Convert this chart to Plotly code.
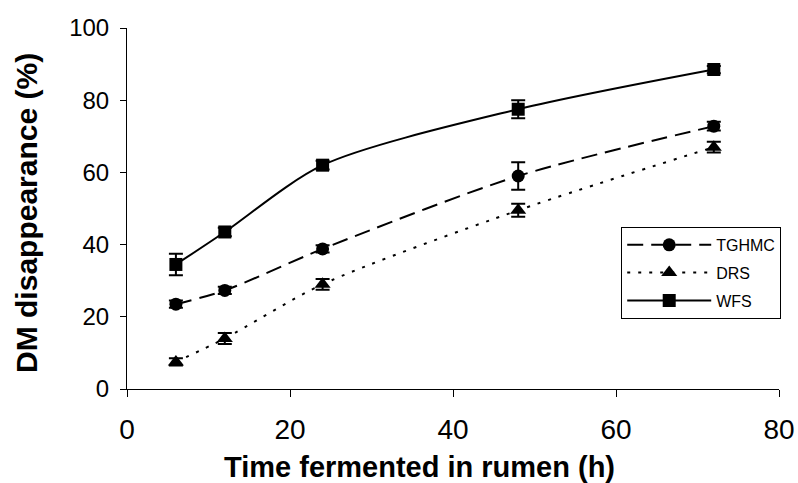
import plotly.graph_objects as go

hours = [6, 12, 24, 48, 72]
tghmc = [23.5, 27.3, 38.8, 59.0, 72.8]
tghmc_err = [1.0, 1.0, 1.0, 3.8, 1.2]
drs = [7.5, 14.0, 29.0, 49.5, 67.0]
drs_err = [1.0, 1.5, 1.5, 1.8, 1.5]
wfs = [34.5, 43.5, 62.0, 77.5, 88.5]
wfs_err = [3.0, 1.2, 1.2, 2.5, 1.0]

x_ticks = [0, 20, 40, 60, 80]
y_ticks = [0, 20, 40, 60, 80, 100]

fig = go.Figure()

def add(name, y, err, dash, symbol, size):
    fig.add_trace(go.Scatter(
        x=hours, y=y, name=name, mode="lines+markers", legendgroup=name,
        line=dict(color="black", width=2, dash=dash, shape="spline", smoothing=0.8),
        marker=dict(symbol=symbol, size=size, color="black"),
        error_y=dict(type="data", array=err, visible=True, color="black",
                     thickness=2, width=7),
    ))

add("TGHMC", tghmc, tghmc_err, "16px,8px", "circle", 13)
add("DRS", drs, drs_err, "3px,8px", "triangle-up", 14)
add("WFS", wfs, wfs_err, "solid", "square", 13)

font = "Liberation Sans, Arial, sans-serif"
fig.update_layout(
    width=798, height=483,
    margin=dict(l=127, r=19, t=28, b=94),
    paper_bgcolor="white", plot_bgcolor="white",
    font=dict(family=font, color="black"),
    showlegend=True,
    legend=dict(x=0.758, y=0.449, xanchor="left", yanchor="top",
                bordercolor="black", borderwidth=1, bgcolor="white",
                font=dict(size=16, family=font), tracegroupgap=4,
                itemwidth=84),
    xaxis=dict(range=[0, 80], tickvals=x_ticks, ticks="outside", ticklen=7,
               tickcolor="black", showline=True, linecolor="black", linewidth=1,
               showgrid=False, zeroline=False, tickfont=dict(size=28),
               ticklabelstandoff=8, automargin=False),
    yaxis=dict(range=[0, 100], tickvals=y_ticks, ticks="outside", ticklen=6,
               tickcolor="black", showline=True, linecolor="black", linewidth=1,
               showgrid=False, zeroline=False, tickfont=dict(size=24),
               ticklabelstandoff=6, automargin=False),
    annotations=[
        dict(text="<b>Time fermented in rumen (h)</b>", xref="paper", yref="paper",
             x=0.448, y=-0.215, xanchor="center", yanchor="middle",
             showarrow=False, font=dict(size=29, family=font)),
        dict(text="<b>DM disappearance (%)</b>", xref="paper", yref="paper",
             x=-0.155, y=0.4875, xanchor="center", yanchor="middle", textangle=-90,
             showarrow=False, font=dict(size=30, family=font)),
    ],
)

fig.write_html("out.html")
